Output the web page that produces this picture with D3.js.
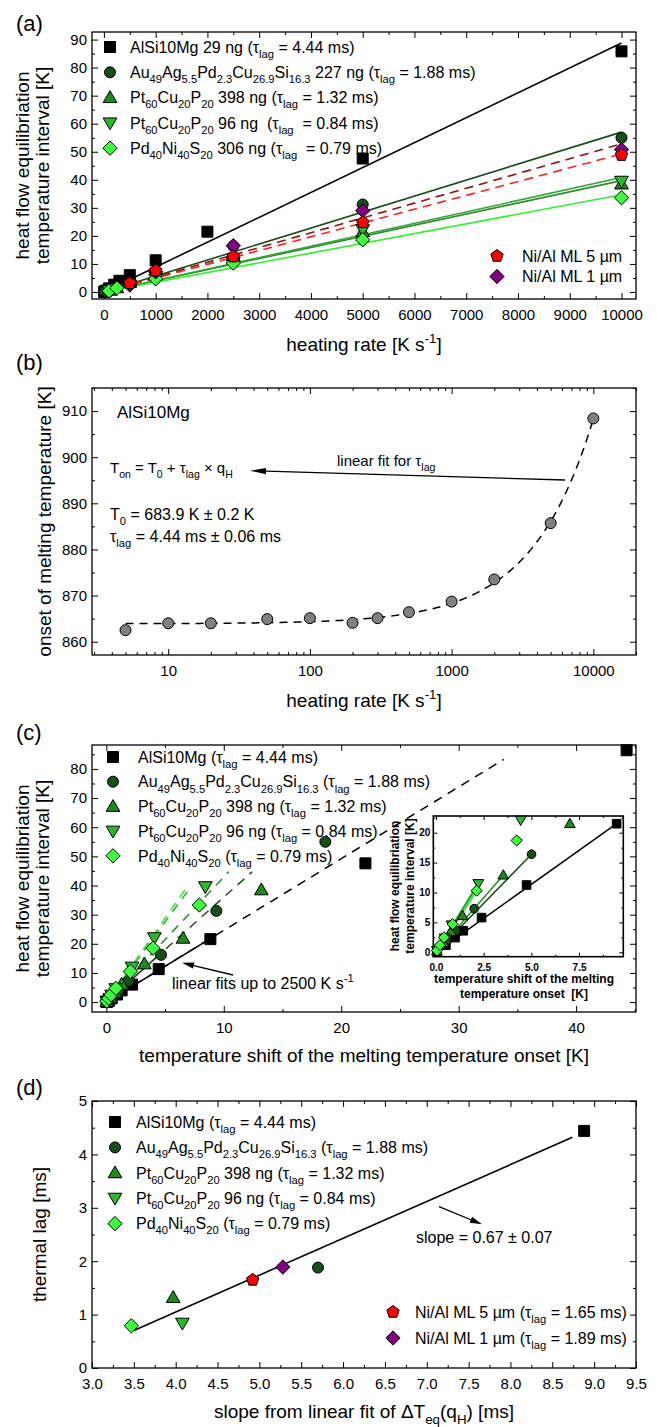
<!DOCTYPE html>
<html>
<head>
<meta charset="utf-8">
<script src="https://cdn.jsdelivr.net/npm/d3@7"></script>
<style>
  body { margin: 0; background: #fff; }
  svg { display: block; }
  text { font-family: "Liberation Sans", Arial, sans-serif; }
</style>
</head>
<body>
<svg id="fig" width="658" height="1427"></svg>
<script>
// ---------------- data ----------------
// (a) heat flow equilibration interval vs heating rate: [rate K/s, interval K]
const aAlSi  = [[5,0.05],[10,0.1],[20,0.2],[50,0.5],[100,1.3],[200,2.6],[300,4.0],[500,6.0],[1000,11.3],[2000,21.5],[5000,47.6],[10000,85.8]];
const aAu    = [[10,0.1],[100,0.9],[250,1.8],[500,3.6],[1000,7.3],[2500,16.4],[5000,31.2],[10000,55.0]];
const aPt398 = [[100,0.6],[250,1.5],[500,3.4],[1000,6.1],[2500,12.9],[5000,21.5],[10000,38.5]];
const aPt96  = [[100,0.5],[250,1.2],[500,2.4],[1000,4.6],[2500,10.6],[5000,22.2],[10000,39.5]];
const aPd    = [[100,0.4],[250,1.4],[500,2.5],[1000,4.7],[2500,10.3],[5000,18.6],[10000,33.6]];
const aNi1   = [[500,2.9],[1000,7.2],[2500,16.5],[5000,29.0],[10000,50.8]];
const aNi5   = [[500,3.1],[1000,7.6],[2500,12.6],[5000,24.8],[10000,48.8]];

// slopes of the linear fits ΔT_eq(q_H) in ms (also the x values of panel d)
const fitSlopeMs = { alsi: 8.88, au: 5.70, pt398: 3.97, pt96: 4.08, pd: 3.47, ni5: 4.92, ni1: 5.28 };
// thermal lag in ms
const lagMs      = { alsi: 4.44, au: 1.88, pt398: 1.32, pt96: 0.84, pd: 0.79, ni5: 1.65, ni1: 1.89 };

// (b) onset of melting vs heating rate, AlSi10Mg
const bRate  = [5, 10, 20, 50, 100, 200, 300, 500, 1000, 2000, 5000, 10000];
const bOnset = [862.5, 864.0, 864.0, 864.9, 865.1, 864.1, 865.1, 866.4, 868.7, 873.5, 885.7, 908.4];
const bFitT0 = 863.9;      // K
const bFitTau = 4.44e-3;   // s

// (c) interval vs temperature shift of the onset: [shift K, interval K]
const cAlSi  = [[0.02,0.05],[0.05,0.1],[0.1,0.2],[0.22,0.5],[0.45,1.3],[0.9,2.6],[1.3,4.0],[2.19,6.0],[4.46,11.3],[8.86,21.6],[22.06,47.6],[44.3,86.4]];
const cAu    = [[0.05,0.1],[0.5,1.8],[0.98,3.6],[1.9,7.3],[4.66,16.2],[9.37,31.3],[18.65,55.0]];
const cPt398 = [[0.05,0.2],[0.35,1.5],[0.72,3.4],[1.3,6.1],[3.24,13.1],[6.53,21.9],[13.2,38.5]];
const cPt96  = [[0.05,0.3],[0.3,1.2],[0.45,2.4],[0.8,4.6],[2.19,12.0],[4.09,22.1],[8.43,39.6]];
const cPd    = [[0.05,0.3],[0.2,1.3],[0.4,2.5],[0.82,4.7],[2.04,10.5],[3.98,18.5],[7.92,33.3]];
// linear fits up to 2500 K/s: slope (K/K), end of fitted range, end of extrapolation
const cFitSlope = { alsi: 2.46, au: 3.6, pt398: 4.29, pt96: 5.5, pd: 5.75 };
const cFitEnd   = { alsi: 8.86, au: 4.66, pt398: 3.24, pt96: 2.19, pd: 2.04 };
const cDashEnd  = { alsi: 33.84, au: 12.41, pt398: 10.42, pt96: 7.2, pd: 6.9 };

// (c) inset, low heating rates
const iAlSi  = [[0.04,0.1],[0.52,1.2],[1.0,2.45],[1.43,3.6],[2.39,5.8],[4.75,11.25],[9.47,21.5]];
const iAu    = [[0.05,0.1],[0.55,1.8],[1.05,3.6],[2.0,7.3],[5.01,16.4]];
const iPt398 = [[0.05,0.2],[0.4,1.6],[0.77,3.45],[1.4,6.1],[3.53,12.9],[7.02,21.5]];
const iPt96  = [[0.05,0.3],[0.45,2.4],[0.82,4.6],[2.22,11.5],[4.44,22.1]];
const iPd    = [[0.05,0.3],[0.21,1.2],[0.42,2.5],[0.87,4.7],[2.13,10.3],[4.23,18.7]];
const iFitEnd = { alsi: [9.47,21.5], au: [5.01,16.4], pt398: [3.53,12.9], pt96: [2.22,11.5], pd: [2.13,10.3] };

// (d) thermal lag vs fitted slope, linear regression
const dFitSlope = 0.69, dFitIntercept = -1.711, dFitRange = [3.5, 8.74];

// tick values
const aXTicks = d3.range(0, 10001, 1000), aYTicks = d3.range(0, 91, 10);
const bXTicks = [10, 100, 1000, 10000], bYTicks = d3.range(860, 911, 10);
const cXTicks = [0, 10, 20, 30, 40], cYTicks = d3.range(0, 81, 10);
const dXTicks = d3.range(3, 9.51, 0.5), dYTicks = [0, 1, 2, 3, 4, 5];
const iXTicks = [0, 2.5, 5, 7.5], iYTicks = [0, 5, 10, 15, 20];

// ---------------- styles ----------------
const sty = {
  alsi:  { shape: 'square',   fill: '#000000', line: '#000000' },
  au:    { shape: 'circle',   fill: '#174d17', line: '#1a4d1a' },
  pt398: { shape: 'up',       fill: '#1e8a1e', line: '#2a8c2a' },
  pt96:  { shape: 'down',     fill: '#2cb82c', line: '#33a533' },
  pd:    { shape: 'diamond',  fill: '#3cff3c', line: '#33ee33' },
  ni5:   { shape: 'pentagon', fill: '#ff0000', line: '#ff2222' },
  ni1:   { shape: 'diamond',  fill: '#800080', line: '#8b1515' }
};

const svg = d3.select('#fig');
const L = 92, R = 636, PH = 267;

function shapePath(type, s) {
  switch (type) {
    case 'square': return `M${-s},${-s}H${s}V${s}H${-s}Z`;
    case 'circle': return `M${s},0A${s},${s} 0 1,1 ${-s},0A${s},${s} 0 1,1 ${s},0Z`;
    case 'up':   { const h = s * 1.25; return `M0,${-h}L${h},${h * 0.72}L${-h},${h * 0.72}Z`; }
    case 'down': { const h = s * 1.25; return `M0,${h}L${h},${-h * 0.72}L${-h},${-h * 0.72}Z`; }
    case 'diamond': { const h = s * 1.3; return `M0,${-h}L${h},0L0,${h}L${-h},0Z`; }
    case 'pentagon': {
      const r = s * 1.18;
      return d3.range(5).map((k, i) => {
        const a = -Math.PI / 2 + k * 2 * Math.PI / 5;
        return (i ? 'L' : 'M') + (r * Math.cos(a)).toFixed(2) + ',' + (r * Math.sin(a)).toFixed(2);
      }).join('') + 'Z';
    }
  }
}

function marker(g, key, cx, cy, s) {
  const st = sty[key];
  g.append('path').attr('d', shapePath(st.shape, s))
    .attr('transform', `translate(${cx},${cy})`)
    .attr('fill', st.fill).attr('stroke', '#000').attr('stroke-width', 1);
}

function points(g, key, data, x, y, s) {
  data.forEach(d => marker(g, key, x(d[0]), y(d[1]), s));
}

// text with _{sub} and ^{sup} markup
function rich(g, str, x, y, size, opts = {}) {
  const t = g.append('text').attr('x', x).attr('y', y).attr('font-size', size)
    .attr('fill', '#000').attr('text-anchor', opts.anchor || 'start')
    .attr('xml:space', 'preserve').style('white-space', 'pre');
  if (opts.weight) t.attr('font-weight', opts.weight);
  if (opts.rotate) t.attr('transform', `rotate(${opts.rotate},${x},${y})`);
  const re = /([_^])\{([^}]*)\}/g;
  let last = 0, m; const parts = [];
  while ((m = re.exec(str))) {
    if (m.index > last) parts.push(['', str.slice(last, m.index)]);
    parts.push([m[1], m[2]]);
    last = re.lastIndex;
  }
  if (last < str.length) parts.push(['', str.slice(last)]);
  let cur = 0;
  parts.forEach(([k, s]) => {
    const off = k === '_' ? size * 0.32 : k === '^' ? -size * 0.42 : 0;
    const ts = t.append('tspan').text(s);
    if (off !== cur) ts.attr('dy', off - cur);
    cur = off;
    if (k) ts.attr('font-size', size * 0.7);
  });
  return t;
}

function arrow(g, x1, y1, x2, y2, len, wid) {
  const a = Math.atan2(y2 - y1, x2 - x1);
  const bx = x2 - len * Math.cos(a), by = y2 - len * Math.sin(a);
  g.append('line').attr('x1', x1).attr('y1', y1).attr('x2', bx).attr('y2', by)
    .attr('stroke', '#000').attr('stroke-width', 1.3);
  const nx = Math.sin(a) * wid, ny = -Math.cos(a) * wid;
  g.append('path').attr('d', `M${x2},${y2}L${bx + nx},${by + ny}L${bx - nx},${by - ny}Z`).attr('fill', '#000');
}

// box with inward ticks on all four sides, labels bottom and left
function frame(g, x, y, o) {
  const [x0, x1] = x.range(), [y0, y1] = y.range();
  const fs = o.fs || 15, wt = o.weight || null;
  const put = (axis, tr, vals, size, fmt, pad) => {
    const a = g.append('g').attr('transform', tr)
      .call(axis.tickValues(vals).tickSize(size).tickPadding(pad).tickFormat(fmt));
    a.select('.domain').remove();
    a.attr('font-family', null).attr('font-size', null);
    a.selectAll('line').attr('stroke', '#000').attr('stroke-width', o.tw || 1);
    a.selectAll('text').attr('font-size', fs).attr('fill', '#000').attr('font-weight', wt);
  };
  const none = () => '';
  const mj = o.major || 6, mn = o.minor || 3;
  put(d3.axisBottom(x), `translate(0,${y0})`, o.xMajor, -mj, o.xFmt, o.padX);
  put(d3.axisBottom(x), `translate(0,${y0})`, o.xMinor, -mn, none, 0);
  put(d3.axisTop(x), `translate(0,${y1})`, o.xMajor, -mj, none, 0);
  put(d3.axisTop(x), `translate(0,${y1})`, o.xMinor, -mn, none, 0);
  put(d3.axisLeft(y), `translate(${x0},0)`, o.yMajor, -mj, o.yFmt, o.padY);
  put(d3.axisLeft(y), `translate(${x0},0)`, o.yMinor, -mn, none, 0);
  put(d3.axisRight(y), `translate(${x1},0)`, o.yMajor, -mj, none, 0);
  put(d3.axisRight(y), `translate(${x1},0)`, o.yMinor, -mn, none, 0);
  g.append('rect').attr('x', x0).attr('y', y1).attr('width', x1 - x0).attr('height', y0 - y1)
    .attr('fill', 'none').attr('stroke', '#000').attr('stroke-width', o.fw || 1.3);
}

const legendNames = {
  a: [['alsi', 'AlSi10Mg 29 ng (τ_{lag} = 4.44 ms)'],
      ['au', 'Au_{49}Ag_{5.5}Pd_{2.3}Cu_{26.9}Si_{16.3} 227 ng (τ_{lag} = 1.88 ms)'],
      ['pt398', 'Pt_{60}Cu_{20}P_{20} 398 ng (τ_{lag} = 1.32 ms)'],
      ['pt96', 'Pt_{60}Cu_{20}P_{20} 96 ng  (τ_{lag}  = 0.84 ms)'],
      ['pd', 'Pd_{40}Ni_{40}S_{20} 306 ng (τ_{lag}  = 0.79 ms)']],
  cd: [['alsi', 'AlSi10Mg (τ_{lag} = 4.44 ms)'],
       ['au', 'Au_{49}Ag_{5.5}Pd_{2.3}Cu_{26.9}Si_{16.3} (τ_{lag} = 1.88 ms)'],
       ['pt398', 'Pt_{60}Cu_{20}P_{20} 398 ng (τ_{lag} = 1.32 ms)'],
       ['pt96', 'Pt_{60}Cu_{20}P_{20} 96 ng (τ_{lag} = 0.84 ms)'],
       ['pd', 'Pd_{40}Ni_{40}S_{20} (τ_{lag} = 0.79 ms)']]
};

function legend(g, items, mx, tx, y0, dy, fs, s) {
  items.forEach(([key, label], i) => {
    const cy = y0 + i * dy;
    marker(g, key, mx, cy, s);
    rich(g, label, tx, cy + fs * 0.36, fs);
  });
}

// ================= panel (a) =================
{
  const top = 32;
  const g = svg.append('g');
  const x = d3.scaleLinear().domain([-230, 10280]).range([L, R]);
  const y = d3.scaleLinear().domain([-2.5, 92.7]).range([top + PH, top]);
  frame(g, x, y, {
    xMajor: aXTicks, xMinor: d3.range(500, 10000, 1000), xFmt: d3.format('d'), padX: 10,
    yMajor: aYTicks, yMinor: d3.range(5, 91, 10), yFmt: d3.format('d'), padY: 5
  });
  const line = d3.line().x(d => x(d[0])).y(d => y(d[1]));
  const fits = [['alsi', false], ['au', false], ['pt398', false], ['pt96', false], ['pd', false], ['ni1', true], ['ni5', true]];
  fits.forEach(([k, dashed]) => {
    const s = fitSlopeMs[k] * 1e-3;
    g.append('path').attr('d', line([[0, 0], [10000, s * 10000]]))
      .attr('fill', 'none').attr('stroke', sty[k].line).attr('stroke-width', 1.6)
      .attr('stroke-dasharray', dashed ? '9,6' : null);
  });
  points(g, 'alsi', aAlSi, x, y, 5.5);
  points(g, 'au', aAu, x, y, 5.5);
  points(g, 'pt398', aPt398, x, y, 5.5);
  points(g, 'pt96', aPt96, x, y, 5.5);
  points(g, 'pd', aPd, x, y, 5.5);
  points(g, 'ni1', aNi1, x, y, 5.5);
  points(g, 'ni5', aNi5, x, y, 5.5);

  legend(g, legendNames.a, 110, 130, 47, 25.3, 16, 5.5);
  legend(g, [['ni5', 'Ni/Al ML 5 µm'], ['ni1', 'Ni/Al ML 1 µm']], 497, 522, 256, 20.5, 16, 5.5);

  rich(g, '(a)', 16, 31, 22);
  rich(g, 'heating rate [K s^{-1}]', (L + R) / 2, top + PH + 52, 19, { anchor: 'middle' });
  rich(g, 'heat flow equilibriation', 29, top + PH / 2, 19, { anchor: 'middle', rotate: -90 });
  rich(g, 'temperature interval [K]', 49, top + PH / 2, 19, { anchor: 'middle', rotate: -90 });
}

// ================= panel (b) =================
{
  const top = 388;
  const g = svg.append('g');
  const x = d3.scaleLog().domain([2.9, 20000]).range([L, R]);
  const y = d3.scaleLinear().domain([857.12, 915]).range([top + PH, top]);
  const minors = [];
  [1, 10, 100, 1000, 10000].forEach(dec => d3.range(2, 10).forEach(k => {
    const v = k * dec; if (v >= 3 && v <= 20000) minors.push(v);
  }));
  frame(g, x, y, {
    xMajor: bXTicks, xMinor: minors, xFmt: d3.format('d'), padX: 10,
    yMajor: bYTicks, yMinor: d3.range(865, 916, 10), yFmt: d3.format('d'), padY: 5
  });
  const qs = d3.range(0, 121).map(i => 5 * Math.pow(10000 / 5, i / 120));
  g.append('path')
    .attr('d', d3.line().x(q => x(q)).y(q => y(bFitT0 + bFitTau * q))(qs))
    .attr('fill', 'none').attr('stroke', '#000').attr('stroke-width', 1.5).attr('stroke-dasharray', '8,6');
  bRate.forEach((q, i) => {
    g.append('circle').attr('cx', x(q)).attr('cy', y(bOnset[i])).attr('r', 5.5)
      .attr('fill', '#808080').attr('stroke', '#000').attr('stroke-width', 1);
  });

  rich(g, 'AlSi10Mg', 117, 418, 17);
  rich(g, 'T_{on} = T_{0} + τ_{lag} × q_{H}', 110, 473, 15);
  rich(g, 'linear fit for τ_{lag}', 337, 466, 15);
  arrow(g, 565, 480, 250, 470.7, 16, 3.2);
  rich(g, 'T_{0} = 683.9 K ± 0.2 K', 110, 520, 16);
  rich(g, 'τ_{lag} = 4.44 ms ± 0.06 ms', 110, 542, 16);

  rich(g, '(b)', 16, 370, 22);
  rich(g, 'heating rate [K s^{-1}]', (L + R) / 2, top + PH + 52, 19, { anchor: 'middle' });
  rich(g, 'onset of melting temperature [K]', 51, top + PH / 2, 19, { anchor: 'middle', rotate: -90 });
}

// ================= panel (c) =================
{
  const top = 745;
  const g = svg.append('g');
  const x = d3.scaleLinear().domain([-1.22, 45.1]).range([L, R]);
  const y = d3.scaleLinear().domain([-3.4, 88.2]).range([top + PH, top]);
  frame(g, x, y, {
    xMajor: cXTicks, xMinor: [5, 15, 25, 35, 45], xFmt: d3.format('d'), padX: 10,
    yMajor: cYTicks, yMinor: d3.range(5, 86, 10), yFmt: d3.format('d'), padY: 5
  });
  const line = d3.line().x(d => x(d[0])).y(d => y(d[1]));
  ['alsi', 'au', 'pt398', 'pt96', 'pd'].forEach(k => {
    const s = cFitSlope[k];
    const col = k === 'alsi' ? '#000' : sty[k].line;
    g.append('path').attr('d', line([[0, 0], [cDashEnd[k], s * cDashEnd[k]]]))
      .attr('fill', 'none').attr('stroke', col).attr('stroke-width', 1.5).attr('stroke-dasharray', '9,7');
    g.append('path').attr('d', line([[0, 0], [cFitEnd[k], s * cFitEnd[k]]]))
      .attr('fill', 'none').attr('stroke', col).attr('stroke-width', 1.6);
  });
  points(g, 'alsi', cAlSi, x, y, 5.5);
  points(g, 'au', cAu, x, y, 5.5);
  points(g, 'pt398', cPt398, x, y, 5.5);
  points(g, 'pt96', cPt96, x, y, 5.5);
  points(g, 'pd', cPd, x, y, 5.5);

  legend(g, legendNames.cd, 113, 138, 757, 24.7, 16, 5.5);
  arrow(g, 233, 975, 182, 962.7, 12, 3.2);
  rich(g, 'linear fits up to 2500 K s^{-1}', 172, 989, 16);

  // inset: low heating rate range
  const ix = d3.scaleLinear().domain([-0.14, 9.82]).range([433.3, 623.3]);
  const iy = d3.scaleLinear().domain([-0.74, 22.79]).range([956.7, 816]);
  g.append('rect').attr('x', 433.3).attr('y', 816).attr('width', 190).attr('height', 140.7).attr('fill', '#fff');
  frame(g, ix, iy, {
    xMajor: iXTicks, xMinor: [1.25, 3.75, 6.25, 8.75], xFmt: d3.format('.1f'), padX: 7,
    yMajor: iYTicks, yMinor: [2.5, 7.5, 12.5, 17.5, 22.5], yFmt: d3.format('d'), padY: 3,
    fs: 10, weight: 'bold', major: 4, minor: 2, fw: 1.6
  });
  const iline = d3.line().x(d => ix(d[0])).y(d => iy(d[1]));
  ['alsi', 'au', 'pt398', 'pd', 'pt96'].forEach(k => {
    const col = k === 'alsi' ? '#000' : sty[k].line;
    g.append('path').attr('d', iline([[0, 0], iFitEnd[k]]))
      .attr('fill', 'none').attr('stroke', col)
      .attr('stroke-width', (k === 'pd' || k === 'pt96') ? 2.2 : 1.5);
  });
  points(g, 'alsi', iAlSi, ix, iy, 4.3);
  points(g, 'au', iAu, ix, iy, 4.3);
  points(g, 'pt398', iPt398, ix, iy, 4.3);
  points(g, 'pt96', iPt96, ix, iy, 4.3);
  points(g, 'pd', iPd, ix, iy, 4.3);
  rich(g, 'temperature shift of the melting', 524, 983, 12, { anchor: 'middle', weight: 'bold' });
  rich(g, 'temperature onset  [K]', 524, 998, 12, { anchor: 'middle', weight: 'bold' });
  rich(g, 'heat flow equilibriation', 399, 886, 12, { anchor: 'middle', weight: 'bold', rotate: -90 });
  rich(g, 'temperature interval [K]', 414, 886, 12, { anchor: 'middle', weight: 'bold', rotate: -90 });

  rich(g, '(c)', 16, 740, 22);
  rich(g, 'temperature shift of the melting temperature onset [K]', (L + R) / 2, top + PH + 50, 19, { anchor: 'middle' });
  rich(g, 'heat flow equilibriation', 29, top + PH / 2, 19, { anchor: 'middle', rotate: -90 });
  rich(g, 'temperature interval [K]', 49, top + PH / 2, 19, { anchor: 'middle', rotate: -90 });
}

// ================= panel (d) =================
{
  const top = 1101;
  const g = svg.append('g');
  const x = d3.scaleLinear().domain([3, 9.5]).range([L, R]);
  const y = d3.scaleLinear().domain([0, 5]).range([top + PH, top]);
  frame(g, x, y, {
    xMajor: dXTicks, xMinor: d3.range(3.25, 9.5, 0.5), xFmt: d3.format('.1f'), padX: 10,
    yMajor: dYTicks, yMinor: [0.5, 1.5, 2.5, 3.5, 4.5], yFmt: d3.format('d'), padY: 5
  });
  g.append('path')
    .attr('d', d3.line().x(v => x(v)).y(v => y(dFitIntercept + dFitSlope * v))(dFitRange))
    .attr('fill', 'none').attr('stroke', '#000').attr('stroke-width', 1.6);
  ['alsi', 'au', 'pt398', 'pt96', 'pd', 'ni5', 'ni1'].forEach(k => {
    marker(g, k, x(fitSlopeMs[k]), y(lagMs[k]), 5.5);
  });
  legend(g, legendNames.cd, 115, 136, 1122, 25.4, 16, 5.5);
  legend(g, [['ni5', 'Ni/Al ML 5 µm (τ_{lag} = 1.65 ms)'], ['ni1', 'Ni/Al ML 1 µm (τ_{lag} = 1.89 ms)']],
    393, 415, 1312, 26, 16, 5.5);
  arrow(g, 439, 1206.7, 482, 1224.3, 12, 3.2);
  rich(g, 'slope = 0.67 ± 0.07', 416, 1243, 16);

  rich(g, '(d)', 16, 1095, 22);
  rich(g, 'slope from linear fit of ΔT_{eq}(q_{H}) [ms]', (L + R) / 2, top + PH + 50, 19, { anchor: 'middle' });
  rich(g, 'thermal lag [ms]', 46, top + PH / 2, 19, { anchor: 'middle', rotate: -90 });
}
</script>
</body>
</html>
